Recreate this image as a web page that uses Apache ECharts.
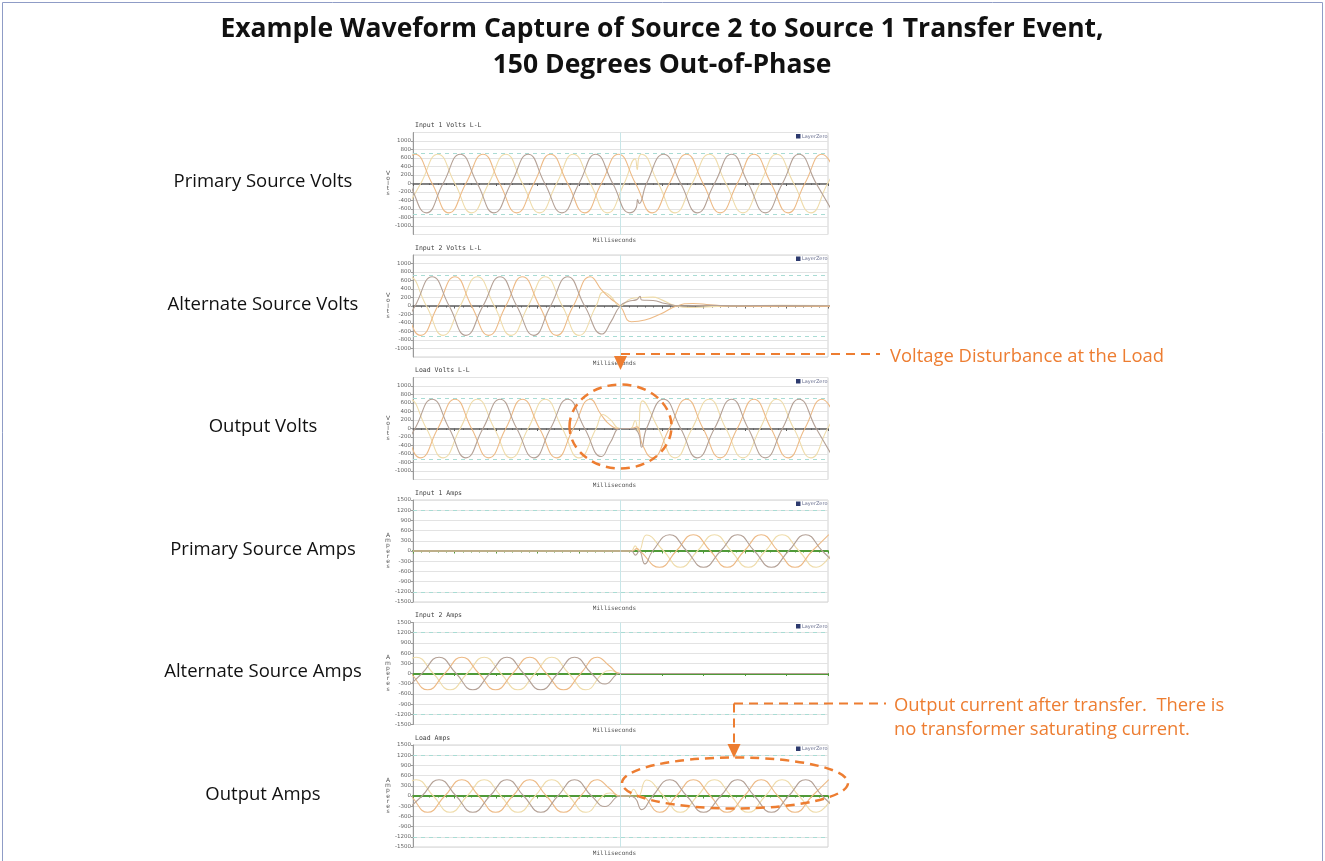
<!DOCTYPE html>
<html>
<head>
<meta charset="utf-8">
<title>Source 2 to Source 1 Transfer Event</title>
<script src="https://cdn.jsdelivr.net/npm/echarts@6.0.0/dist/echarts.min.js"></script>
<style>
  html, body { margin: 0; padding: 0; background: #fff; }
  #chart { width: 1325px; height: 861px; }
</style>
</head>
<body>
<div id="chart"></div>
<script>
// Time in milliseconds (0..102, transfer at 51), values.
const titleLines = ['Example Waveform Capture of Source 2 to Source 1 Transfer Event,', '150 Degrees Out-of-Phase'];
const panelTitles = ['Input 1 Volts L-L', 'Input 2 Volts L-L', 'Load Volts L-L', 'Input 1 Amps', 'Input 2 Amps', 'Load Amps'];
const sourceLabels = ['Primary Source Volts', 'Alternate Source Volts', 'Output Volts', 'Primary Source Amps', 'Alternate Source Amps', 'Output Amps'];
const unitNames = ['Volts', 'Volts', 'Volts', 'Amperes', 'Amperes', 'Amperes'];
const xAxisName = 'Milliseconds';
const timeRange = [0, 102, 10.2];
const transferTime = 51;
const voltRange = [-1200, 1200, 200];
const ampRange = [-1500, 1500, 300];
const voltLimit = 720;
const ampLimit = 1200;
const noteDisturbance = ['Voltage Disturbance at the Load'];
const noteCurrent = ['Output current after transfer.  There is', 'no transformer saturating current.'];

// Input 1 (primary source) volts L-L
const in1VoltsOrange = [[-3.7,0],[0.5,690],[4.7,0],[8.8,-690],[13.0,0],[17.2,690],[21.3,0],[25.5,-690],[29.7,0],[33.8,690],[38.0,0],[42.2,-690],[46.3,0],[50.5,690],[54.7,0],[58.8,-690],[63.0,0],[67.2,690],[71.3,0],[75.5,-690],[79.7,0],[83.8,690],[88.0,0],[92.2,-690],[96.3,0],[100.5,690],[104.7,0]];
const in1VoltsYellow = [[-2.2,-690],[1.9,0],[6.1,690],[10.3,0],[14.4,-690],[18.6,0],[22.8,690],[26.9,0],[31.1,-690],[35.3,0],[39.4,690],[43.6,0],[47.8,-690],[51.9,0],[54.6,580],[55.1,330],[55.5,610],[56.1,690],[60.3,0],[64.4,-690],[68.6,0],[72.8,690],[76.9,0],[81.1,-690],[85.3,0],[89.4,690],[93.6,0],[97.8,-690],[101.9,0],[106.1,690]];
const in1VoltsBrown = [[-5.1,690],[-0.9,0],[3.3,-690],[7.4,0],[11.6,690],[15.8,0],[19.9,-690],[24.1,0],[28.3,690],[32.4,0],[36.6,-690],[40.8,0],[44.9,690],[49.1,0],[53.3,-690],[54.9,-560],[55.2,-380],[55.6,-470],[57.4,0],[61.6,690],[65.8,0],[69.9,-690],[74.1,0],[78.3,690],[82.4,0],[86.6,-690],[90.8,0],[94.9,690],[99.1,0],[103.3,-690]];

// Input 2 (alternate source) volts L-L
const in2VoltsOrange = [[-6.4,690],[-2.2,0],[1.9,-690],[6.1,0],[10.3,690],[14.4,0],[18.6,-690],[22.8,0],[26.9,690],[31.1,0],[35.3,-690],[39.4,0],[43.6,690],[46.5,360],[48.6,170],[50.9,0],[53.7,-370],[57.0,-330],[61.0,-180],[64.8,0],[68.8,60],[73.0,30],[77.0,0],[85.0,-10],[95.0,-5],[103.0,-10]];
const in2VoltsYellow = [[-5.1,0],[-0.9,690],[3.3,0],[7.4,-690],[11.6,0],[15.8,690],[20.0,0],[24.1,-690],[28.3,0],[32.5,690],[36.7,0],[40.8,-690],[45.0,0],[46.8,330],[48.6,230],[50.9,0],[53.5,170],[56.0,200],[59.0,210],[61.0,150],[64.8,0],[68.0,-35],[72.0,-20],[80.0,5],[90.0,15],[103.0,10]];
const in2VoltsBrown = [[-3.6,-690],[0.5,0],[4.7,690],[8.9,0],[13.0,-690],[17.2,0],[21.4,690],[25.5,0],[29.7,-690],[33.8,0],[38.0,690],[42.2,0],[46.5,-660],[48.6,-380],[50.9,0],[53.0,110],[55.0,150],[55.8,230],[56.2,140],[59.0,130],[62.0,60],[66.0,0],[72.0,15],[80.0,5],[90.0,12],[103.0,5]];

// Load volts L-L
const loadVoltsOrange = [[-6.4,690],[-2.2,0],[1.9,-690],[6.1,0],[10.3,690],[14.4,0],[18.6,-690],[22.8,0],[26.9,690],[31.1,0],[35.3,-690],[39.4,0],[43.6,690],[46.2,330],[48.5,80],[50.9,0],[52.2,0],[53.5,0],[55.0,40],[56.4,-380],[58.8,-690],[63.0,0],[67.2,690],[71.3,0],[75.5,-690],[79.7,0],[83.8,690],[88.0,0],[92.2,-690],[96.3,0],[100.5,690],[104.7,0]];
const loadVoltsYellow = [[-5.1,0],[-0.9,690],[3.3,0],[7.4,-690],[11.6,0],[15.8,690],[20.0,0],[24.1,-690],[28.3,0],[32.5,690],[36.7,0],[40.8,-690],[45.0,0],[46.7,330],[48.4,220],[50.9,0],[52.2,0],[53.5,0],[54.6,190],[55.3,-80],[56.4,650],[60.3,0],[64.4,-690],[68.6,0],[72.8,690],[76.9,0],[81.1,-690],[85.3,0],[89.4,690],[93.6,0],[97.8,-690],[101.9,0],[106.1,690]];
const loadVoltsBrown = [[-3.6,-690],[0.5,0],[4.7,690],[8.9,0],[13.0,-690],[17.2,0],[21.4,690],[25.5,0],[29.7,-690],[33.8,0],[38.0,690],[42.2,0],[46.3,-660],[48.5,-330],[50.9,0],[52.2,0],[53.5,0],[55.3,-90],[56.2,-440],[57.4,0],[61.6,690],[65.8,0],[69.9,-690],[74.1,0],[78.3,690],[82.4,0],[86.6,-690],[90.8,0],[94.9,690],[99.1,0],[103.3,-690]];

// Input 1 amps
const in1AmpsYellow = [[0,0],[50.9,0],[53.0,0],[53.7,0],[54.6,150],[55.5,0],[57.4,470],[61.6,0],[65.7,-480],[69.9,0],[74.1,480],[78.2,0],[82.4,-480],[86.6,0],[90.7,480],[94.9,0],[99.1,-480],[103.2,0]];
const in1AmpsOrange = [[0,0],[50.9,0],[53.0,0],[54.0,0],[55.0,70],[55.8,0],[60.6,-480],[64.7,0],[68.9,480],[73.1,0],[77.2,-480],[81.4,0],[85.6,480],[89.7,0],[93.9,-480],[98.1,0],[102.2,480]];
const in1AmpsBrown = [[0,0],[50.9,0],[53.0,0],[53.7,0],[54.7,-120],[55.6,0],[57.0,-380],[58.9,0],[63.1,480],[67.3,0],[71.4,-480],[75.6,0],[79.8,480],[83.9,0],[88.1,-480],[92.3,0],[96.5,480],[100.6,0],[104.8,-480]];

// Input 2 amps
const in2AmpsYellow = [[-3.4,0],[0.8,480],[5.0,0],[9.1,-480],[13.3,0],[17.5,480],[21.6,0],[25.8,-480],[30.0,0],[34.1,480],[38.3,0],[42.5,-480],[46.6,0],[48.6,90],[50.9,0],[53.0,0],[102,0]];
const in2AmpsOrange = [[-4.7,480],[-0.5,0],[3.6,-480],[7.8,0],[12.0,480],[16.2,0],[20.3,-480],[24.5,0],[28.7,480],[32.8,0],[37.0,-480],[41.2,0],[45.3,480],[48.3,220],[50.9,0],[53.0,0],[102,0]];
const in2AmpsBrown = [[-2.0,-480],[2.2,0],[6.4,480],[10.6,0],[14.7,-480],[18.9,0],[23.1,480],[27.2,0],[31.4,-480],[35.6,0],[39.7,480],[43.9,0],[47.2,-310],[50.9,0],[53.0,0],[102,0]];

// Load amps
const loadAmpsYellow = [[-3.4,0],[0.8,480],[5.0,0],[9.1,-480],[13.3,0],[17.5,480],[21.6,0],[25.8,-480],[30.0,0],[34.1,480],[38.3,0],[42.5,-480],[46.6,0],[48.6,90],[50.9,0],[53.0,0],[54.2,200],[55.4,0],[57.4,470],[61.6,0],[65.7,-480],[69.9,0],[74.1,480],[78.2,0],[82.4,-480],[86.6,0],[90.7,480],[94.9,0],[99.1,-480],[103.2,0]];
const loadAmpsOrange = [[-4.7,480],[-0.5,0],[3.6,-480],[7.8,0],[12.0,480],[16.2,0],[20.3,-480],[24.5,0],[28.7,480],[32.8,0],[37.0,-480],[41.2,0],[45.3,480],[48.3,220],[50.9,0],[53.0,0],[55.8,0],[60.6,-480],[64.7,0],[68.9,480],[73.1,0],[77.2,-480],[81.4,0],[85.6,480],[89.7,0],[93.9,-480],[98.1,0],[102.2,480]];
const loadAmpsBrown = [[-2.0,-480],[2.2,0],[6.4,480],[10.6,0],[14.7,-480],[18.9,0],[23.1,480],[27.2,0],[31.4,-480],[35.6,0],[39.7,480],[43.9,0],[47.2,-310],[50.9,0],[53.0,0],[54.6,-60],[56.2,-400],[58.9,0],[63.1,480],[67.3,0],[71.4,-480],[75.6,0],[79.8,480],[83.9,0],[88.1,-480],[92.3,0],[96.5,480],[100.6,0],[104.8,-480]];

const panelData = [
  [in1VoltsYellow, in1VoltsOrange, in1VoltsBrown],
  [in2VoltsYellow, in2VoltsOrange, in2VoltsBrown],
  [loadVoltsYellow, loadVoltsOrange, loadVoltsBrown],
  [in1AmpsYellow, in1AmpsOrange, in1AmpsBrown],
  [in2AmpsYellow, in2AmpsOrange, in2AmpsBrown],
  [loadAmpsYellow, loadAmpsOrange, loadAmpsBrown]
];
const phaseNames = ['Phase C', 'Phase B', 'Phase A'];
const phaseColors = ['#efdcab', '#edba86', '#b4a196'];

// layout
const ZERO_TOP = 183.5;
const PANEL_STEP = 122.5;
const HALF_H = 51;
const PLOT_LEFT = 413;
const PLOT_W = 415;
const NOTE = '#ED7D31';
const LABEL_FONT = '"Open Sans"';
const zeroY = (i) => ZERO_TOP + PANEL_STEP * i;

const grids = [];
const xAxes = [];
const yAxes = [];
const series = [];
const graphics = [];

for (let i = 0; i < panelData.length; i++) {
  const isAmps = unitNames[i] === 'Amperes';
  const range = isAmps ? ampRange : voltRange;
  const limit = isAmps ? ampLimit : voltLimit;
  const zeroColor = isAmps ? '#4f9a38' : '#5f5f5f';

  grids.push({
    left: PLOT_LEFT,
    top: zeroY(i) - HALF_H,
    width: PLOT_W,
    height: HALF_H * 2,
    show: true,
    backgroundColor: '#fff',
    borderColor: '#d2d2d2',
    borderWidth: 1
  });

  xAxes.push({
    type: 'value',
    gridIndex: i,
    min: timeRange[0],
    max: timeRange[1],
    interval: timeRange[2],
    axisLine: { onZero: true, lineStyle: { color: zeroColor, width: isAmps ? 1.8 : 1.5 } },
    axisTick: { show: true, length: 2.5, lineStyle: { color: zeroColor, width: 1 } },
    minorTick: { show: true, splitNumber: 5, length: 1.5, lineStyle: { color: zeroColor } },
    axisLabel: { show: false },
    splitLine: { show: false }
  });

  yAxes.push({
    type: 'value',
    gridIndex: i,
    min: range[0],
    max: range[1],
    interval: range[2],
    axisLine: { show: true, lineStyle: { color: '#9a9a9a' } },
    axisTick: { show: true, length: 2, lineStyle: { color: '#9a9a9a' } },
    axisLabel: {
      fontSize: 5.5,
      color: '#666',
      margin: 2,
      fontFamily: 'DejaVu Sans',
      showMinLabel: isAmps,
      showMaxLabel: isAmps,
      formatter: (v) => String(v)
    },
    splitLine: { show: true, lineStyle: { color: '#e3e3e3', width: 1 } }
  });

  panelData[i].forEach((data, k) => {
    const s = {
      name: phaseNames[k],
      type: 'line',
      xAxisIndex: i,
      yAxisIndex: i,
      data: data,
      smooth: 0.5,
      symbol: 'none',
      clip: true,
      silent: true,
      z: 3 + k,
      lineStyle: { color: phaseColors[k], width: 1.1 }
    };
    if (k === 0) {
      s.markLine = {
        silent: true,
        symbol: ['none', 'none'],
        label: { show: false },
        animation: false,
        data: [
          { yAxis: limit, lineStyle: { color: '#a9dcd4', type: [4, 4], width: 1 } },
          { yAxis: -limit, lineStyle: { color: '#a9dcd4', type: [4, 4], width: 1 } },
          { xAxis: transferTime, lineStyle: { color: '#c8e6e8', type: 'solid', width: 1 } }
        ]
      };
    }
    series.push(s);
  });

  // panel caption, axis names, left label, logo
  graphics.push({
    type: 'text', x: PLOT_LEFT + 2, y: zeroY(i) - 58,
    style: { text: panelTitles[i], font: '6.5px "DejaVu Sans Mono"', fill: '#444', textVerticalAlign: 'middle', verticalAlign: 'middle' }
  });
  graphics.push({
    type: 'text', x: PLOT_LEFT + PLOT_W / 2 - 6, y: zeroY(i) + 57,
    style: { text: xAxisName, font: '6px "DejaVu Sans Mono"', fill: '#555', textAlign: 'center', align: 'center', textVerticalAlign: 'middle', verticalAlign: 'middle' }
  });
  graphics.push({
    type: 'text', x: 388, y: zeroY(i),
    style: {
      text: unitNames[i].split('').join('\n'),
      font: '6px "DejaVu Sans"', lineHeight: 5.2, fill: '#555',
      textAlign: 'center', align: 'center', textVerticalAlign: 'middle', verticalAlign: 'middle'
    }
  });
  graphics.push({
    type: 'text', x: 263, y: zeroY(i) - 1.5,
    style: {
      text: sourceLabels[i], font: '18.5px ' + LABEL_FONT, fill: '#111',
      textAlign: 'center', align: 'center', textVerticalAlign: 'middle', verticalAlign: 'middle'
    }
  });
  graphics.push({
    type: 'rect', shape: { x: 796, y: zeroY(i) - HALF_H + 1.5, width: 4.5, height: 4.5 },
    style: { fill: '#2d3a6e' }
  });
  graphics.push({
    type: 'text', x: 802, y: zeroY(i) - HALF_H + 3.8,
    style: { text: 'LayerZero', font: '5px "DejaVu Sans"', fill: '#6a7090', textVerticalAlign: 'middle', verticalAlign: 'middle' }
  });
}

// frame and heading
graphics.push({
  type: 'rect', shape: { x: 2.5, y: 2.5, width: 1320, height: 880 },
  style: { fill: 'none', stroke: '#8f9cc6', lineWidth: 1 }, z: -1
});
titleLines.forEach((line, k) => {
  graphics.push({
    type: 'text', x: 662, y: 29 + k * 36,
    style: { text: line, font: 'bold 26.5px ' + LABEL_FONT, fill: '#111', textAlign: 'center', align: 'center', textVerticalAlign: 'middle', verticalAlign: 'middle' }
  });
});

// callout 1: voltage disturbance
const dash = [9, 6];
graphics.push(
  { type: 'line', shape: { x1: 621, y1: 354, x2: 880, y2: 354 }, style: { stroke: NOTE, lineWidth: 2, lineDash: dash }, z: 20 },
  { type: 'polygon', shape: { points: [[614, 356], [627, 356], [620.5, 370]] }, style: { fill: NOTE }, z: 20 },
  { type: 'ellipse', shape: { cx: 620.5, cy: 426.5, rx: 51, ry: 42 }, style: { fill: 'none', stroke: NOTE, lineWidth: 2.5, lineDash: dash }, z: 20 }
);
noteDisturbance.forEach((line, k) => {
  graphics.push({
    type: 'text', x: 890, y: 356.5 + k * 24, z: 20,
    style: { text: line, font: '18.4px ' + LABEL_FONT, fill: NOTE, textVerticalAlign: 'middle', verticalAlign: 'middle' }
  });
});

// callout 2: output current after transfer
graphics.push(
  { type: 'line', shape: { x1: 734, y1: 703.5, x2: 886, y2: 703.5 }, style: { stroke: NOTE, lineWidth: 2, lineDash: dash }, z: 20 },
  { type: 'line', shape: { x1: 734, y1: 703.5, x2: 734, y2: 745 }, style: { stroke: NOTE, lineWidth: 2, lineDash: dash }, z: 20 },
  { type: 'polygon', shape: { points: [[727.5, 744], [740.5, 744], [734, 758]] }, style: { fill: NOTE }, z: 20 },
  { type: 'ellipse', shape: { cx: 735, cy: 783, rx: 113, ry: 25.5 }, style: { fill: 'none', stroke: NOTE, lineWidth: 2.5, lineDash: dash }, z: 20 }
);
noteCurrent.forEach((line, k) => {
  graphics.push({
    type: 'text', x: 894, y: 705.5 + k * 24, z: 20,
    style: { text: line, font: '18.4px ' + LABEL_FONT, fill: NOTE, textVerticalAlign: 'middle', verticalAlign: 'middle' }
  });
});

const chart = echarts.init(document.getElementById('chart'));
chart.setOption({
  animation: false,
  backgroundColor: '#fff',
  grid: grids,
  xAxis: xAxes,
  yAxis: yAxes,
  series: series,
  graphic: { elements: graphics }
});
</script>
</body>
</html>
